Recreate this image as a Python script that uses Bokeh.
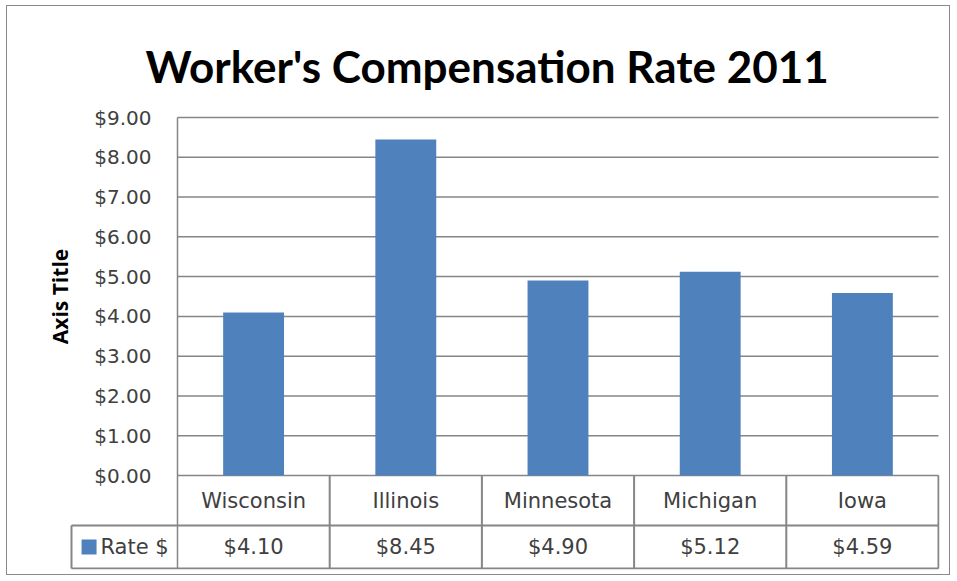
import math
from bokeh.plotting import figure
from bokeh.models import Range1d, LinearAxis, FixedTicker, NumeralTickFormatter, ColumnDataSource
from bokeh.core.properties import value
from bokeh.embed import file_html
from bokeh.resources import INLINE

# ---- data ----
categories = ["Wisconsin", "Illinois", "Minnesota", "Michigan", "Iowa"]
rates = [4.10, 8.45, 4.90, 5.12, 4.59]
series_name = "Rate $"
y_ticks = [0, 1, 2, 3, 4, 5, 6, 7, 8, 9]
title_text = "Worker's Compensation Rate 2011"
axis_title = "Axis Title"

# ---- layout constants ----
n = len(categories)
xc = [i + 0.5 for i in range(n)]
legend_left = -0.6965
row_split = -1.257
table_bottom = -2.338
cat_row_y = (0 + row_split) / 2
val_row_y = (row_split + table_bottom) / 2

BLUE = "#4F81BD"
GRID = "#868686"
TXT = "#404040"

p = figure(width=944, height=570, output_backend="svg", toolbar_location=None,
           x_range=Range1d(-0.9001, 5.0066), y_range=Range1d(-2.363, 9.302),
           x_axis_location=None, y_axis_location=None,
           min_border_left=33, min_border_right=12, min_border_top=99, min_border_bottom=7)
p.grid.visible = False
p.outline_line_color = None
p.styles = {"border": "1px solid #898989", "margin-left": "6px", "margin-top": "5px"}

p.title.text = title_text
p.title.text_font = "Lato"
p.title.text_font_style = "bold"
p.title.text_font_size = "44px"
p.title.text_color = "#000000"
p.title.align = "left"
p.title.offset = 105
p.title.standoff = 28

# horizontal gridlines
p.segment(x0=[0] * len(y_ticks), x1=[n] * len(y_ticks), y0=y_ticks, y1=y_ticks,
          line_color=GRID, line_width=1.5)
# axis line continuing through the data table
p.segment(x0=[0], x1=[0], y0=[table_bottom], y1=[max(y_ticks)], line_color=GRID, line_width=1.5)
# table lines
p.segment(x0=[legend_left, legend_left], x1=[n, n], y0=[row_split, table_bottom],
          y1=[row_split, table_bottom], line_color=GRID, line_width=2)
p.segment(x0=list(range(1, n + 1)), x1=list(range(1, n + 1)), y0=[0] * n, y1=[table_bottom] * n,
          line_color=GRID, line_width=2)
p.segment(x0=[legend_left], x1=[legend_left], y0=[row_split], y1=[table_bottom],
          line_color=GRID, line_width=2)

src = ColumnDataSource(dict(x=xc, top=rates, cat=categories,
                            lab=[f"${v:.2f}" for v in rates]))
p.vbar(x="x", top="top", bottom=0, width=0.4, source=src, fill_color=BLUE, line_color=None)

p.text(x="x", y=cat_row_y, text="cat", source=src, text_align="center", text_baseline="middle",
       text_font=value("DejaVu Sans"), text_font_size="21px", text_color=TXT)
p.text(x="x", y=val_row_y, text="lab", source=src, text_align="center", text_baseline="middle",
       text_font=value("DejaVu Sans"), text_font_size="21px", text_color=TXT)

# legend key in table
p.scatter(x=[-0.581], y=[val_row_y], marker="square", size=15, fill_color=BLUE, line_color=None)
p.text(x=[-0.506], y=[val_row_y], text=[series_name], text_align="left", text_baseline="middle",
       text_font=value("DejaVu Sans"), text_font_size="21px", text_color=TXT)

# axis title
p.text(x=[-0.772], y=[(min(y_ticks) + max(y_ticks)) / 2], text=[axis_title], angle=math.pi / 2,
       text_align="center", text_baseline="middle", text_font=value("Open Sans"),
       text_font_style="bold", text_font_size="21px", text_color="#000000")

yaxis = LinearAxis(fixed_location=0, ticker=FixedTicker(ticks=y_ticks),
                   formatter=NumeralTickFormatter(format="$0.00"), bounds=(0, 9),
                   axis_line_color=None, major_tick_line_color=None, minor_tick_line_color=None,
                   major_tick_out=0, major_tick_in=0, major_label_standoff=26,
                   major_label_text_font="DejaVu Sans", major_label_text_font_size="20px",
                   major_label_text_color=TXT)
p.add_layout(yaxis, "left")

open("out.html", "w").write(file_html(p, INLINE))
